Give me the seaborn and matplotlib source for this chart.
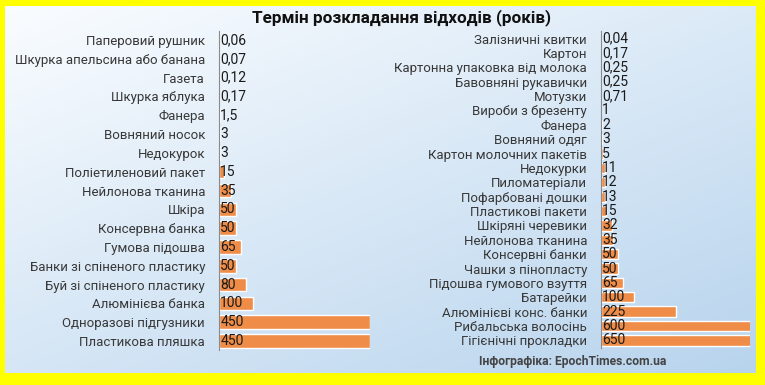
import numpy as np
import pandas as pd
import matplotlib
matplotlib.use("Agg")
import matplotlib.pyplot as plt
import seaborn as sns

# left column
left_items = ["Паперовий рушник", "Шкурка апельсина або банана", "Газета", "Шкурка яблука",
              "Фанера", "Вовняний носок", "Недокурок", "Поліетиленовий пакет",
              "Нейлонова тканина", "Шкіра", "Консервна банка", "Гумова підошва",
              "Банки зі спіненого пластику", "Буй зі спіненого пластику", "Алюмінієва банка",
              "Одноразові підгузники", "Пластикова пляшка"]
left_years = [0.06, 0.07, 0.12, 0.17, 1.5, 3, 3, 15, 35, 50, 50, 65, 50, 80, 100, 450, 450]

# right column
right_items = ["Залізничні квитки", "Картон", "Картонна упаковка від молока",
               "Бавовняні рукавички", "Мотузки", "Вироби з брезенту", "Фанера",
               "Вовняний одяг", "Картон молочних пакетів", "Недокурки", "Пиломатеріали",
               "Пофарбовані дошки", "Пластикові пакети", "Шкіряні черевики",
               "Нейлонова тканина", "Консервні банки", "Чашки з пінопласту",
               "Підошва гумового взуття", "Батарейки", "Алюмінієві конс. банки",
               "Рибальська волосінь", "Гігієнічні прокладки"]
right_years = [0.04, 0.17, 0.25, 0.25, 0.71, 1, 2, 3, 5, 11, 12, 13, 15, 32, 35, 50, 50,
               65, 100, 225, 600, 650]

title = "Термін розкладання відходів (років)"
credit = "Інфографіка: EpochTimes.com.ua"

sns.set_style("white")
plt.rcParams["font.family"] = ["Roboto", "DejaVu Sans"]

BAR = "#EF8D48"
TXT = "#383838"

fig = plt.figure(figsize=(7.65, 3.85), dpi=100)
fig.patch.set_facecolor("#FFFF00")

# light blue gradient panel inside the yellow frame
bg = fig.add_axes([5 / 765, 1 - 373 / 385, 751 / 765, 367 / 385])
gx, gy = np.meshgrid(np.linspace(0, 1, 200), np.linspace(0, 1, 200))
g = np.clip(0.55 * gy + 0.45 * gx, 0, 1)
c0 = np.array([0.98, 0.99, 1.0])
c1 = np.array([0.72, 0.83, 0.93])
img = c0[None, None, :] * (1 - g[..., None]) + c1[None, None, :] * g[..., None]
bg.imshow(img, aspect="auto", extent=[0, 1, 1, 0])
bg.set_axis_off()


def panel(rect, items, years, fs):
    ax = fig.add_axes(rect)
    df = pd.DataFrame({"item": items, "years": years})
    sns.barplot(data=df, x="years", y="item", orient="h", color=BAR, width=0.72,
                saturation=1, ax=ax)
    ax.set_xlim(0, 450)
    ax.set_ylim(len(items) - 0.5, -0.5)
    ax.set_facecolor("none")
    for s in ["top", "right", "bottom"]:
        ax.spines[s].set_visible(False)
    ax.spines["left"].set_color("#8a8a8a")
    ax.spines["left"].set_linewidth(0.8)
    ax.set_xticks([])
    ax.set_xlabel("")
    ax.set_ylabel("")
    ax.tick_params(axis="y", length=0, pad=10, labelsize=fs, labelcolor=TXT)
    for i, v in enumerate(years):
        ax.text(4, i, f"{v:g}".replace(".", ","), va="center", ha="left",
                fontsize=fs + 0.5, color="#1a1a1a")
    return ax


panel([219 / 765, 1 - 350.4 / 385, 151 / 765, 319.8 / 385], left_items, left_years, 9.5)
panel([601 / 765, 1 - 347.6 / 385, 149 / 765, 316.2 / 385], right_items, right_years, 9.5)

fig.text(401 / 765, 1 - 18 / 385, title, ha="center", va="center",
         fontsize=12.3, fontweight="bold", color="#111111")
fig.text(573 / 765, 1 - 362 / 385, credit, ha="center", va="center",
         fontsize=8.7, fontweight="bold", color="#444444")

fig.savefig("out.png", dpi=100, facecolor=fig.get_facecolor())
